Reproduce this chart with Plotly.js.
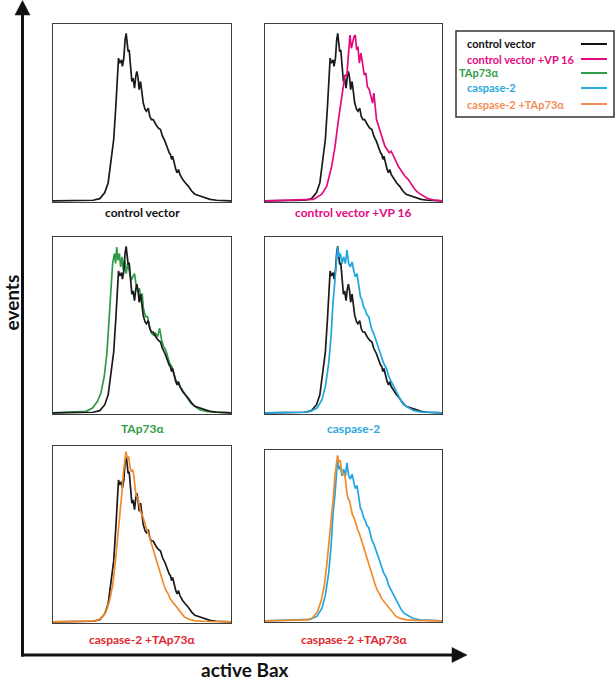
<!DOCTYPE html>
<html>
<head>
<meta charset="utf-8">
<script src="https://cdn.plot.ly/plotly-3.0.1.min.js"></script>
<style>html,body{margin:0;padding:0;background:#fff}#chart{width:615px;height:680px}</style>
</head>
<body>
<div id="chart"></div>
<script>
// ---- data (fraction of panel width / fraction of panel height) ----
const ctrlX = [0,0.225,0.263,0.291,0.310,0.328,0.341,0.353,0.360,0.368,0.375,0.385,0.390,0.398,0.405,0.411,0.417,0.422,0.428,0.435,0.443,0.450,0.458,0.465,0.471,0.478,0.484,0.492,0.499,0.507,0.518,0.525,0.535,0.544,0.553,0.563,0.578,0.591,0.604,0.615,0.629,0.638,0.647,0.653,0.660,0.666,0.672,0.679,0.690,0.698,0.705,0.713,0.728,0.743,0.760,0.779,0.797,0.826,0.854,0.882,0.919,1.0];
const ctrlY = [0,0.004,0.013,0.047,0.103,0.235,0.347,0.535,0.685,0.807,0.779,0.797,0.760,0.807,0.910,0.947,0.891,0.844,0.854,0.741,0.675,0.694,0.638,0.704,0.732,0.694,0.629,0.675,0.619,0.553,0.516,0.507,0.525,0.478,0.460,0.460,0.432,0.413,0.403,0.366,0.338,0.310,0.281,0.272,0.263,0.235,0.253,0.216,0.178,0.159,0.178,0.150,0.122,0.103,0.084,0.056,0.038,0.028,0.019,0.009,0.004,0];

const vp16X = [0,0.199,0.274,0.321,0.349,0.377,0.396,0.415,0.428,0.443,0.452,0.462,0.471,0.480,0.488,0.495,0.503,0.510,0.518,0.525,0.533,0.542,0.552,0.561,0.570,0.578,0.589,0.598,0.608,0.615,0.621,0.630,0.642,0.653,0.664,0.677,0.690,0.702,0.713,0.724,0.735,0.752,0.771,0.790,0.809,0.827,0.846,0.865,0.893,0.921,0.949,1.0];
const vp16Y = [0,0.004,0.009,0.038,0.084,0.197,0.310,0.460,0.553,0.647,0.713,0.704,0.835,0.938,0.863,0.891,0.929,0.938,0.854,0.872,0.779,0.835,0.760,0.713,0.722,0.647,0.629,0.591,0.553,0.610,0.535,0.460,0.422,0.385,0.347,0.310,0.291,0.272,0.281,0.253,0.235,0.197,0.169,0.141,0.122,0.094,0.066,0.047,0.028,0.013,0.006,0];

const tapX = [0,0.147,0.185,0.222,0.250,0.269,0.288,0.303,0.316,0.326,0.335,0.345,0.352,0.358,0.365,0.373,0.380,0.388,0.395,0.403,0.411,0.420,0.429,0.439,0.448,0.458,0.467,0.476,0.486,0.493,0.501,0.508,0.520,0.531,0.542,0.554,0.565,0.576,0.588,0.599,0.610,0.621,0.633,0.644,0.655,0.667,0.678,0.689,0.701,0.712,0.731,0.750,0.772,0.797,0.825,0.862,0.919,1.0];
const tapY = [0,0.004,0.009,0.028,0.066,0.113,0.208,0.340,0.528,0.679,0.849,0.906,0.849,0.943,0.868,0.906,0.830,0.887,0.811,0.868,0.792,0.849,0.792,0.755,0.774,0.792,0.726,0.689,0.708,0.642,0.679,0.594,0.547,0.547,0.491,0.453,0.443,0.453,0.434,0.481,0.415,0.377,0.358,0.321,0.283,0.264,0.226,0.189,0.170,0.151,0.123,0.094,0.060,0.038,0.019,0.009,0.004,0];

const caspX = [0,0.218,0.256,0.294,0.322,0.341,0.360,0.373,0.384,0.395,0.403,0.410,0.418,0.426,0.435,0.444,0.454,0.463,0.473,0.482,0.492,0.501,0.510,0.520,0.529,0.539,0.548,0.557,0.567,0.576,0.586,0.595,0.604,0.614,0.623,0.633,0.642,0.652,0.661,0.670,0.680,0.689,0.699,0.708,0.727,0.746,0.765,0.783,0.812,0.840,0.878,0.934,1.0];
const caspY = [0,0.004,0.009,0.028,0.075,0.151,0.283,0.434,0.623,0.736,0.849,0.943,0.887,0.906,0.849,0.887,0.849,0.925,0.849,0.830,0.858,0.811,0.774,0.792,0.717,0.660,0.642,0.604,0.585,0.557,0.547,0.509,0.472,0.453,0.425,0.396,0.358,0.340,0.302,0.283,0.264,0.245,0.208,0.189,0.151,0.113,0.075,0.047,0.028,0.013,0.006,0.002,0];

const comboX = [0,0.128,0.241,0.269,0.297,0.316,0.335,0.350,0.363,0.376,0.387,0.395,0.402,0.410,0.417,0.425,0.432,0.440,0.447,0.455,0.462,0.470,0.477,0.485,0.494,0.504,0.513,0.523,0.534,0.545,0.556,0.568,0.579,0.590,0.602,0.613,0.624,0.635,0.647,0.658,0.673,0.688,0.703,0.720,0.739,0.763,0.795,0.842,1.0];
const comboY = [0,0.004,0.006,0.019,0.056,0.113,0.207,0.338,0.470,0.620,0.733,0.846,0.921,0.968,0.930,0.940,0.883,0.855,0.865,0.827,0.752,0.714,0.705,0.658,0.620,0.602,0.564,0.536,0.508,0.470,0.432,0.395,0.357,0.320,0.282,0.244,0.207,0.179,0.160,0.132,0.113,0.094,0.075,0.047,0.028,0.015,0.008,0.004,0];

const panelTitles = ["control vector","control vector +VP 16","TAp73α","caspase-2","caspase-2 +TAp73α","caspase-2 +TAp73α"];
const panelTitleColors = ["#111111","#e5097f","#2f9e4a","#29a9e0","#e2262c","#e2262c"];
const legendLabels = ["control vector","control vector +VP 16","TAp73α","caspase-2","caspase-2 +TAp73α"];
const legendColors = ["#111111","#e5097f","#2f9e4a","#29a9e0","#f28e55"];
const lineColors = {ctrl:"#1a1a1a", vp16:"#e5097f", tap:"#2f9a48", casp:"#1fa6e0", combo:"#f18a2c"};

// ---- layout geometry ----
const W = 615, H = 680;
const px = v => v / W;
const py = v => 1 - v / H;
const cols = [[53,231],[265,442]];
const rows = [[24,202],[237,414],[446,623]];
const panels = [
  {c:0,r:0},{c:1,r:0},{c:0,r:1},{c:1,r:1},{c:0,r:2},{c:1,r:2,top:450,bot:622}
];

const traces = [];
function addTrace(i, x, y, color) {
  const n = i === 0 ? "" : String(i + 1);
  traces.push({x:x, y:y, type:"scatter", mode:"lines", xaxis:"x"+n, yaxis:"y"+n,
    line:{color:color, width:1.7}, hoverinfo:"skip", showlegend:false});
}
addTrace(0, ctrlX, ctrlY, lineColors.ctrl);
addTrace(1, ctrlX, ctrlY, lineColors.ctrl);
addTrace(1, vp16X, vp16Y, lineColors.vp16);
addTrace(2, tapX, tapY, lineColors.tap);
addTrace(2, ctrlX, ctrlY, lineColors.ctrl);
addTrace(3, ctrlX, ctrlY, lineColors.ctrl);
addTrace(3, caspX, caspY, lineColors.casp);
addTrace(4, ctrlX, ctrlY, lineColors.ctrl);
addTrace(4, comboX, comboY, lineColors.combo);
addTrace(5, caspX, caspY, lineColors.casp);
addTrace(5, comboX, comboY, lineColors.combo);

const layout = {
  width: W, height: H,
  margin: {l:0, r:0, t:0, b:0},
  paper_bgcolor: "#ffffff", plot_bgcolor: "#ffffff",
  showlegend: false,
  annotations: [], shapes: []
};
const axCommon = {showline:true, mirror:true, linecolor:"#3d3d3d", linewidth:1.3,
  showgrid:false, zeroline:false, showticklabels:false, ticks:"", fixedrange:true};
const labelY = [212, 428, 639];
panels.forEach((p, i) => {
  const n = i === 0 ? "" : String(i + 1);
  const top = p.top || rows[p.r][0], bot = p.bot || rows[p.r][1];
  layout["xaxis"+n] = Object.assign({}, axCommon, {domain:[px(cols[p.c][0]), px(cols[p.c][1])], range:[0,1], anchor:"y"+n});
  layout["yaxis"+n] = Object.assign({}, axCommon, {domain:[py(bot), py(top)], range:[-0.006,1], anchor:"x"+n});
  layout.annotations.push({xref:"paper", yref:"paper", x:px((cols[p.c][0]+cols[p.c][1])/2), y:py(labelY[p.r]),
    text:"<b>"+panelTitles[i]+"</b>", showarrow:false, xanchor:"center", yanchor:"middle",
    font:{family:"Lato, 'Open Sans', sans-serif", size:12, color:panelTitleColors[i]}});
});

// axis arrows
layout.shapes.push({type:"line", xref:"paper", yref:"paper", x0:px(22.5), x1:px(22.5), y0:py(656.5), y1:py(12), line:{color:"#111", width:3}});
layout.shapes.push({type:"line", xref:"paper", yref:"paper", x0:px(21), x1:px(456), y0:py(655), y1:py(655), line:{color:"#111", width:3}});
layout.shapes.push({type:"path", xref:"paper", yref:"paper",
  path:`M ${px(15)} ${py(15)} L ${px(22.5)} ${py(0.5)} L ${px(30)} ${py(15)} Z`, fillcolor:"#111", line:{color:"#111", width:0.5}});
layout.shapes.push({type:"path", xref:"paper", yref:"paper",
  path:`M ${px(452)} ${py(647.5)} L ${px(467)} ${py(655)} L ${px(452)} ${py(662.5)} Z`, fillcolor:"#111", line:{color:"#111", width:0.5}});

layout.annotations.push({xref:"paper", yref:"paper", x:px(10.5), y:py(303), text:"<b>events</b>", textangle:-90,
  showarrow:false, xanchor:"center", yanchor:"middle", font:{family:"Lato, 'Open Sans', sans-serif", size:19, color:"#111"}});
layout.annotations.push({xref:"paper", yref:"paper", x:px(245), y:py(669), text:"<b>active Bax</b>",
  showarrow:false, xanchor:"center", yanchor:"middle", font:{family:"Lato, 'Open Sans', sans-serif", size:19, color:"#111"}});

// legend box
layout.shapes.push({type:"rect", xref:"paper", yref:"paper", x0:px(456), x1:px(614), y0:py(117), y1:py(31), line:{color:"#333", width:1.5}, fillcolor:"rgba(0,0,0,0)"});
const legY = [44, 59, 73, 88, 104];
legendLabels.forEach((t, i) => {
  layout.annotations.push({xref:"paper", yref:"paper", x:px(i === 2 ? 457 : 465), y:py(legY[i]), text:"<b>"+t+"</b>",
    showarrow:false, xanchor:"left", yanchor:"middle", font:{family:"Lato, 'Open Sans', sans-serif", size:11, color:legendColors[i]}});
  layout.shapes.push({type:"line", xref:"paper", yref:"paper", x0:px(581), x1:px(607), y0:py(legY[i]), y1:py(legY[i]), line:{color:legendColors[i], width:2}});
});

Plotly.newPlot("chart", traces, layout, {staticPlot:true, displayModeBar:false});
</script>
</body>
</html>
